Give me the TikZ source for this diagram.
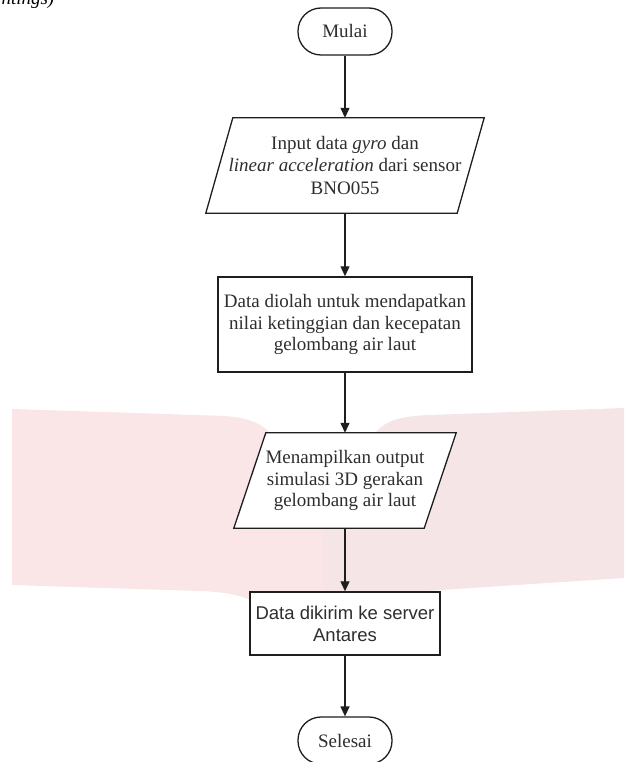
\documentclass[tikz,border=0pt]{standalone}
\usepackage{fontspec}
\setmainfont{Liberation Serif}
\newfontfamily\flowsans{Liberation Sans}
\usetikzlibrary{arrows.meta}
\definecolor{wmleft}{HTML}{FAE5E7}
\definecolor{wmright}{HTML}{F5E5E6}
\definecolor{ink}{HTML}{1E1E1E}
\definecolor{txt}{HTML}{2E2E2E}
\pgfdeclarelayer{bg}
\pgfsetlayers{bg,main}
\newcommand\flowtxt{\fontsize{19}{22.5}\selectfont}
\begin{document}
\begin{tikzpicture}[x=1pt,y=-1pt,
  flowline/.style={draw=ink, line width=1.3pt, -{Triangle[length=10pt,width=9pt]}},
  term/.style={draw=ink, line width=1.3pt, fill=white, rounded corners=23pt,
    minimum width=94pt, minimum height=47pt, inner sep=0pt, font=\flowtxt, text=txt},
  procbox/.style={draw=ink, line width=1.5pt, fill=white, inner sep=0pt,
    align=center, font=\flowtxt, text=txt},
  iobox/.style={draw=none, inner sep=0pt, minimum height=95pt, align=center,
    font=\flowtxt, text=txt},
  ioshape/.style={draw=ink, line width=1.3pt, fill=white, line join=miter}
]
\useasboundingbox (0,0) rectangle (624,762);

\node[anchor=base west, font=\fontsize{19}{19}\selectfont\itshape, text=black] (frag) at (-2,4.5) {ntings)};

\node[term] (start) at (345,31.5) {Mulai};
\node[iobox, minimum width=278pt] (in) at (345,165.5)
  {Input data \textit{gyro} dan\\ \textit{linear acceleration} dari sensor\\ BNO055};
\node[procbox, minimum width=254pt, minimum height=95pt, font=\fontsize{19}{21.5}\selectfont] (proc) at (345,324.5)
  {Data diolah untuk mendapatkan\\ nilai ketinggian dan kecepatan\\ gelombang air laut};
\node[iobox, minimum width=222pt] (out) at (345,480.5)
  {\raisebox{-4pt}{\shortstack{Menampilkan output\\[1.5pt] simulasi 3D gerakan\\[1.5pt] gelombang air laut}}};
\node[procbox, minimum width=190pt, minimum height=63pt, font=\flowsans\fontsize{18.5}{22}\selectfont] (send) at (345,623.5)
  {Data dikirim ke server\\ Antares};
\node[term] (stop) at (345,740.5) {Selesai};

\begin{pgfonlayer}{bg}
  \fill[wmleft] (12,409) -- (225,416) .. controls (250,418) and (262,424) .. (270,433)
    -- (323,433) -- (323,598) -- (250,600) .. controls (240,595) and (225,592) .. (200,591)
    -- (12,585) -- cycle;
  \fill[wmright] (323,433) -- (375,433) .. controls (385,421) and (400,416) .. (430,415)
    -- (624,408) -- (624,578) -- (441,590) -- (323,598) -- cycle;
  \draw[ioshape] ([xshift=27pt]in.north west) -- (in.north east)
    -- ([xshift=-27pt]in.south east) -- (in.south west) -- cycle;
  \draw[ioshape] ([xshift=32pt]out.north west) -- (out.north east)
    -- ([xshift=-32pt]out.south east) -- (out.south west) -- cycle;
\end{pgfonlayer}

\draw[flowline] (start) -- (in);
\draw[flowline] (in) -- (proc);
\draw[flowline] (proc) -- (out);
\draw[flowline] (out) -- (send);
\draw[flowline] (send) -- (stop);
\end{tikzpicture}
\end{document}
